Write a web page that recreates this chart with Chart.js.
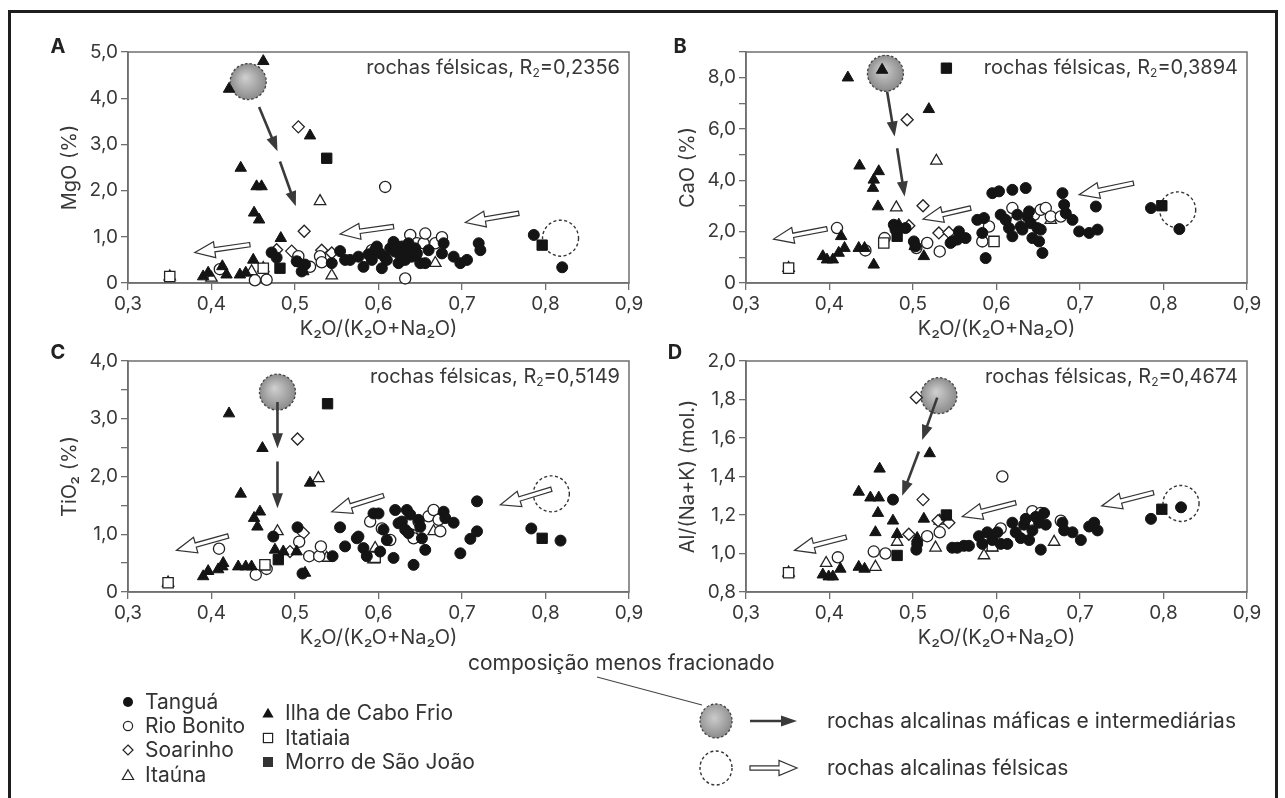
<!DOCTYPE html>
<html lang="pt">
<head>
<meta charset="utf-8">
<title>Diagramas K2O/(K2O+Na2O)</title>
<script src="https://cdn.jsdelivr.net/npm/chart.js@4"></script>
<style>
  body { margin: 0; background: #fff; }
  #fig { position: relative; width: 1285px; height: 798px; overflow: hidden; background: #fff;
         font-family: Inter, 'Liberation Sans', Arial, sans-serif; color: #333; }
  #fig canvas { position: absolute; }
  .frame { position: absolute; left: 8px; top: 10px; width: 1270px; height: 830px;
           border: 3px solid #1e1e1e; box-sizing: border-box; }
  .leg { position: absolute; font-size: 21px; line-height: 24px; white-space: nowrap; }
  #key { position: absolute; left: 0; top: 0; }
</style>
</head>
<body>
<div id="fig">
  <div class="frame"></div>
  <canvas id="panelA" width="620" height="311" style="left:30px;top:30px"></canvas>
  <canvas id="panelB" width="620" height="311" style="left:648px;top:30px"></canvas>
  <canvas id="panelC" width="620" height="311" style="left:30px;top:339px"></canvas>
  <canvas id="panelD" width="620" height="311" style="left:648px;top:339px"></canvas>
  <svg id="key" width="1285" height="798">
    <defs>
      <radialGradient id="grayBall" cx="45%" cy="42%" r="62%">
        <stop offset="0" stop-color="#cbcbcb"/>
        <stop offset="1" stop-color="#878787"/>
      </radialGradient>
    </defs>
    <line x1="597" y1="677" x2="702" y2="705" stroke="#444" stroke-width="1.2"/>
    <ellipse cx="716" cy="721" rx="16" ry="17" fill="url(#grayBall)" stroke="#444" stroke-width="1.3" stroke-dasharray="2.5 2"/>
    <line x1="750" y1="721" x2="784" y2="721" stroke="#3a3a3a" stroke-width="2.5"/>
    <polygon points="797,721 781,715.5 781,726.5" fill="#3a3a3a"/>
    <ellipse cx="716" cy="768" rx="16" ry="17" fill="none" stroke="#333" stroke-width="1.4" stroke-dasharray="3 2.5"/>
    <polygon points="750,765.8 779,765.8 779,760.5 797,768 779,775.5 779,770.2 750,770.2" fill="#fff" stroke="#333" stroke-width="1.2"/>
  </svg>
  <div id="legend"></div>
</div>

<script>
// eixos
const xTicks = [0.3, 0.4, 0.5, 0.6, 0.7, 0.8, 0.9];
const xTickLabels = ['0,3', '0,4', '0,5', '0,6', '0,7', '0,8', '0,9'];
const mgoTicks = [0, 1, 2, 3, 4, 5];
const mgoTickLabels = ['0', '1,0', '2,0', '3,0', '4,0', '5,0'];
const caoTicks = [0, 1, 2, 3, 4, 5, 6, 7, 8, 9];
const caoTickLabels = ['0', '', '2,0', '', '4,0', '', '6,0', '', '8,0', ''];
const tio2Ticks = [0, 0.5, 1, 1.5, 2, 2.5, 3, 3.5, 4];
const tio2TickLabels = ['0', '', '1,0', '', '2,0', '', '3,0', '', '4,0'];
const alnkTicks = [0.8, 1.0, 1.2, 1.4, 1.6, 1.8, 2.0];
const alnkTickLabels = ['0,8', '1,0', '1,2', '1,4', '1,6', '1,8', '2,0'];

const seriesNames = ['Tanguá', 'Rio Bonito', 'Soarinho', 'Itaúna', 'Ilha de Cabo Frio', 'Itatiaia', 'Morro de São João'];
const r2Values = ['0,2356', '0,3894', '0,5149', '0,4674'];

// A - MgO (%)
const mgoTangua = [[0.472,0.66],[0.478,0.55],[0.502,0.47],[0.508,0.25],[0.512,0.40],[0.544,0.43],[0.554,0.69],[0.560,0.50],[0.566,0.50],[0.576,0.57],[0.582,0.35],[0.588,0.62],[0.592,0.50],[0.596,0.72],[0.598,0.79],[0.602,0.64],[0.604,0.32],[0.608,0.55],[0.610,0.50],[0.614,0.75],[0.618,0.89],[0.620,0.68],[0.624,0.43],[0.626,0.60],[0.628,0.79],[0.632,0.50],[0.634,0.71],[0.636,0.86],[0.640,0.57],[0.644,0.75],[0.646,0.64],[0.650,0.43],[0.656,0.43],[0.660,0.71],[0.676,0.64],[0.678,0.86],[0.690,0.57],[0.698,0.43],[0.706,0.50],[0.720,0.86],[0.722,0.71],[0.786,1.04],[0.820,0.34]];
const mgoRioBonito = [[0.410,0.30],[0.452,0.06],[0.466,0.07],[0.504,0.58],[0.518,0.35],[0.530,0.58],[0.532,0.45],[0.592,0.71],[0.608,2.08],[0.622,0.79],[0.632,0.10],[0.638,1.04],[0.646,0.86],[0.654,0.86],[0.656,1.07],[0.668,0.86],[0.676,0.99]];
const mgoSoarinho = [[0.478,0.72],[0.496,0.69],[0.504,3.38],[0.511,1.12],[0.532,0.71],[0.544,0.65]];
const mgoItauna = [[0.350,0.14],[0.400,0.11],[0.448,0.25],[0.462,0.32],[0.530,1.77],[0.544,0.16],[0.668,0.43]];
const mgoIlha = [[0.390,0.14],[0.396,0.22],[0.413,0.36],[0.418,0.18],[0.421,4.20],[0.434,0.18],[0.435,2.49],[0.441,0.22],[0.450,0.50],[0.451,1.52],[0.454,2.09],[0.457,1.37],[0.460,2.09],[0.462,4.80],[0.483,0.97],[0.506,0.43],[0.510,0.25],[0.518,3.19]];
const mgoItatiaia = [[0.350,0.14],[0.462,0.32]];
const mgoMorro = [[0.482,0.32],[0.538,2.70],[0.796,0.82]];

// B - CaO (%)
const caoTangua = [[0.477,2.27],[0.479,2.08],[0.491,2.14],[0.501,1.62],[0.503,1.43],[0.545,1.56],[0.547,1.62],[0.553,1.69],[0.555,2.01],[0.563,1.75],[0.577,2.46],[0.583,1.95],[0.585,2.53],[0.587,0.97],[0.595,3.50],[0.603,3.57],[0.605,2.66],[0.611,2.46],[0.615,2.14],[0.619,1.82],[0.619,3.63],[0.625,2.66],[0.629,2.20],[0.631,2.08],[0.635,3.70],[0.637,2.59],[0.639,2.79],[0.641,2.33],[0.643,1.75],[0.649,2.14],[0.651,1.62],[0.653,2.08],[0.655,1.17],[0.679,3.50],[0.681,3.05],[0.683,2.72],[0.691,2.46],[0.699,2.01],[0.711,1.95],[0.719,2.98],[0.721,2.08],[0.785,2.92],[0.819,2.10]];
const caoRioBonito = [[0.409,2.14],[0.443,1.27],[0.466,1.75],[0.504,1.36],[0.517,1.56],[0.532,1.23],[0.583,1.62],[0.591,2.20],[0.619,2.92],[0.623,2.40],[0.645,2.66],[0.653,2.85],[0.659,2.92],[0.665,2.59],[0.677,2.59]];
const caoSoarinho = [[0.493,6.36],[0.495,2.23],[0.512,3.01],[0.531,1.95],[0.543,1.97]];
const caoItauna = [[0.351,0.58],[0.480,2.94],[0.528,4.76],[0.665,2.45]];
const caoIlha = [[0.392,1.04],[0.397,0.91],[0.404,0.91],[0.411,1.17],[0.414,1.82],[0.418,1.36],[0.422,8.00],[0.435,1.36],[0.436,4.57],[0.442,1.36],[0.452,3.70],[0.453,0.71],[0.453,4.02],[0.458,2.98],[0.459,4.35],[0.463,8.30],[0.483,2.27],[0.502,1.43],[0.513,1.04],[0.519,6.77]];
const caoItatiaia = [[0.351,0.58],[0.465,1.56],[0.597,1.62]];
const caoMorro = [[0.481,1.82],[0.540,8.37],[0.798,3.01]];

// C - TiO2 (%)
const tio2Tangua = [[0.474,0.96],[0.503,1.12],[0.509,0.32],[0.545,0.62],[0.554,1.12],[0.560,0.79],[0.574,0.93],[0.576,0.96],[0.582,0.76],[0.586,0.62],[0.594,1.36],[0.600,1.36],[0.602,0.70],[0.606,1.08],[0.610,0.90],[0.618,0.59],[0.620,1.42],[0.624,1.19],[0.628,1.22],[0.632,1.08],[0.634,1.42],[0.636,1.02],[0.638,1.34],[0.642,0.47],[0.648,1.25],[0.650,1.13],[0.652,0.93],[0.656,0.73],[0.678,1.39],[0.680,1.28],[0.690,1.20],[0.698,0.67],[0.710,0.92],[0.718,1.05],[0.718,1.57],[0.783,1.10],[0.818,0.89]];
const tio2RioBonito = [[0.409,0.75],[0.453,0.30],[0.466,0.40],[0.505,0.87],[0.517,0.62],[0.529,0.62],[0.531,0.79],[0.590,1.22],[0.604,1.10],[0.614,0.90],[0.640,0.99],[0.642,0.93],[0.648,1.22],[0.660,1.31],[0.666,1.42],[0.672,1.25],[0.674,1.05]];
const tio2Soarinho = [[0.494,0.70],[0.503,2.65],[0.510,1.02]];
const tio2Itauna = [[0.348,0.16],[0.479,1.05],[0.528,1.97],[0.538,0.59],[0.594,0.56],[0.596,0.76],[0.666,1.05]];
const tio2Ilha = [[0.390,0.27],[0.396,0.36],[0.408,0.39],[0.413,0.44],[0.414,0.50],[0.421,3.09],[0.432,0.44],[0.435,1.70],[0.441,0.44],[0.448,0.44],[0.451,1.28],[0.455,1.13],[0.458,1.39],[0.461,2.49],[0.476,0.73],[0.486,0.70],[0.502,0.70],[0.512,0.33],[0.518,1.89]];
const tio2Itatiaia = [[0.348,0.16],[0.464,0.47],[0.596,0.60]];
const tio2Morro = [[0.480,0.56],[0.539,3.26],[0.796,0.93]];

// D - Al/(Na+K) (mol.)
const alnkTangua = [[0.476,1.28],[0.504,1.02],[0.505,1.05],[0.547,1.03],[0.553,1.03],[0.561,1.04],[0.567,1.04],[0.579,1.09],[0.583,1.05],[0.589,1.11],[0.595,1.07],[0.601,1.11],[0.605,1.05],[0.613,1.05],[0.619,1.16],[0.623,1.11],[0.629,1.08],[0.633,1.15],[0.635,1.18],[0.639,1.07],[0.643,1.12],[0.647,1.19],[0.651,1.16],[0.653,1.02],[0.657,1.21],[0.659,1.15],[0.679,1.16],[0.681,1.12],[0.691,1.11],[0.701,1.07],[0.711,1.14],[0.717,1.16],[0.721,1.12],[0.785,1.18],[0.821,1.24]];
const alnkRioBonito = [[0.410,0.98],[0.453,1.01],[0.467,1.00],[0.517,1.09],[0.532,1.11],[0.587,1.09],[0.605,1.13],[0.607,1.40],[0.643,1.22],[0.653,1.21],[0.677,1.17]];
const alnkSoarinho = [[0.495,1.10],[0.504,1.81],[0.512,1.28],[0.530,1.17],[0.543,1.16]];
const alnkItauna = [[0.351,0.90],[0.396,0.95],[0.455,0.93],[0.481,1.06],[0.527,1.03],[0.532,1.17],[0.585,0.99],[0.595,1.03],[0.669,1.06]];
const alnkIlha = [[0.392,0.89],[0.399,0.88],[0.404,0.88],[0.413,0.92],[0.435,0.93],[0.435,1.32],[0.442,0.92],[0.449,1.29],[0.455,1.11],[0.458,1.21],[0.459,1.29],[0.460,1.44],[0.476,1.17],[0.481,1.10],[0.505,1.08],[0.513,1.18],[0.520,1.52]];
const alnkItatiaia = [[0.351,0.90],[0.595,1.04]];
const alnkMorro = [[0.481,0.99],[0.540,1.20],[0.798,1.23]];

// composicao menos fracionada e tendencias (unidades dos eixos)
const mgoMafic = [0.444, 4.36], mgoFelsic = [0.818, 0.97];
const mgoMaficArrows = [[[0.457,3.81],[0.479,2.85]], [[0.482,2.63],[0.501,1.66]]];
const mgoFelsicArrows = [[[0.446,0.83],[0.380,0.66]], [[0.618,1.22],[0.554,1.06]], [[0.768,1.51],[0.704,1.31]]];
const caoMafic = [0.467, 8.17], caoFelsic = [0.817, 2.85];
const caoMaficArrows = [[[0.469,7.46],[0.478,5.71]], [[0.481,5.25],[0.490,3.37]]];
const caoFelsicArrows = [[[0.397,2.11],[0.333,1.71]], [[0.569,2.92],[0.512,2.49]], [[0.764,3.89],[0.699,3.44]]];
const tio2Mafic = [0.479, 3.46], tio2Felsic = [0.807, 1.70];
const tio2MaficArrows = [[[0.479,3.29],[0.479,2.49]], [[0.479,2.26],[0.479,1.45]]];
const tio2FelsicArrows = [[[0.420,0.97],[0.358,0.72]], [[0.606,1.67],[0.544,1.39]], [[0.807,1.78],[0.746,1.51]]];
const alnkMafic = [0.531, 1.82], alnkFelsic = [0.821, 1.26];
const alnkMaficArrows = [[[0.529,1.81],[0.511,1.59]], [[0.507,1.53],[0.487,1.30]]];
const alnkFelsicArrows = [[[0.420,1.085],[0.358,1.016]], [[0.623,1.264],[0.559,1.192]], [[0.788,1.316],[0.726,1.247]]];

const axisColor = '#6f6f6f';
const textColor = '#383838';
const fontFamily = "Inter, 'Liberation Sans', Arial, sans-serif";
Chart.defaults.font.family = fontFamily;

// marcadores: indice em seriesNames -> estilo
const markerStyles = [
  { pointStyle: 'circle', radius: 5.5, fill: '#141414', stroke: '#141414' },
  { pointStyle: 'circle', radius: 5.6, fill: '#ffffff', stroke: '#222' },
  { pointStyle: 'rectRot', radius: 6, fill: '#ffffff', stroke: '#222' },
  { pointStyle: 'triangle', radius: 6.6, fill: '#ffffff', stroke: '#222' },
  { pointStyle: 'triangle', radius: 6.6, fill: '#141414', stroke: '#141414' },
  { pointStyle: 'rect', radius: 7.3, fill: '#ffffff', stroke: '#222' },
  { pointStyle: 'rect', radius: 7.3, fill: '#141414', stroke: '#141414' }
];
// ordem de desenho (abertos por cima)
const drawOrder = [0, 4, 6, 5, 1, 2, 3];

function toPx(chart, p) {
  return [chart.scales.x.getPixelForValue(p[0]), chart.scales.y.getPixelForValue(p[1])];
}

function darkArrow(ctx, s, e) {
  const dx = e[0] - s[0], dy = e[1] - s[1];
  const len = Math.hypot(dx, dy), ux = dx / len, uy = dy / len;
  const bx = e[0] - ux * 15, by = e[1] - uy * 15;
  ctx.strokeStyle = '#3a3a3a';
  ctx.fillStyle = '#3a3a3a';
  ctx.lineWidth = 2.6;
  ctx.beginPath();
  ctx.moveTo(s[0], s[1]);
  ctx.lineTo(bx + ux * 2, by + uy * 2);
  ctx.stroke();
  ctx.beginPath();
  ctx.moveTo(e[0], e[1]);
  ctx.lineTo(bx - uy * 5.5, by + ux * 5.5);
  ctx.lineTo(bx + uy * 5.5, by - ux * 5.5);
  ctx.closePath();
  ctx.fill();
}

function hollowArrow(ctx, s, e) {
  const dx = e[0] - s[0], dy = e[1] - s[1];
  const len = Math.hypot(dx, dy), ux = dx / len, uy = dy / len;
  const nx = -uy, ny = ux;
  const bx = e[0] - ux * 20, by = e[1] - uy * 20;
  const sh = 2.2, hh = 8;
  ctx.beginPath();
  ctx.moveTo(s[0] + nx * sh, s[1] + ny * sh);
  ctx.lineTo(bx + nx * sh, by + ny * sh);
  ctx.lineTo(bx + nx * hh, by + ny * hh);
  ctx.lineTo(e[0], e[1]);
  ctx.lineTo(bx - nx * hh, by - ny * hh);
  ctx.lineTo(bx - nx * sh, by - ny * sh);
  ctx.lineTo(s[0] - nx * sh, s[1] - ny * sh);
  ctx.closePath();
  ctx.fillStyle = '#fff';
  ctx.fill();
  ctx.strokeStyle = '#333';
  ctx.lineWidth = 1.2;
  ctx.stroke();
}

function panelDecor(p) {
  return {
    id: 'decor',
    beforeDatasetsDraw(chart) {
      const { ctx, chartArea: a } = chart;
      ctx.save();
      ctx.strokeStyle = axisColor;
      ctx.lineWidth = 1.5;
      ctx.strokeRect(a.left, a.top, a.right - a.left, a.bottom - a.top);

      // composicao menos fracionada (rochas maficas)
      const [mx, my] = toPx(chart, p.mafic);
      const g = ctx.createRadialGradient(mx - 3, my - 4, 1, mx, my, 19);
      g.addColorStop(0, '#cdcdcd');
      g.addColorStop(1, '#888');
      ctx.beginPath();
      ctx.arc(mx, my, 18, 0, Math.PI * 2);
      ctx.fillStyle = g;
      ctx.fill();
      ctx.setLineDash([2.5, 2]);
      ctx.strokeStyle = '#444';
      ctx.lineWidth = 1.3;
      ctx.stroke();

      // rochas felsicas
      const [fx, fy] = toPx(chart, p.felsic);
      ctx.beginPath();
      ctx.arc(fx, fy, 18, 0, Math.PI * 2);
      ctx.setLineDash([3, 2.5]);
      ctx.strokeStyle = '#333';
      ctx.lineWidth = 1.4;
      ctx.stroke();
      ctx.setLineDash([]);
      ctx.restore();
    },
    afterDatasetsDraw(chart) {
      const ctx = chart.ctx;
      ctx.save();
      p.maficArrows.forEach(ar => darkArrow(ctx, toPx(chart, ar[0]), toPx(chart, ar[1])));
      p.felsicArrows.forEach(ar => hollowArrow(ctx, toPx(chart, ar[0]), toPx(chart, ar[1])));
      ctx.restore();
    },
    afterDraw(chart) {
      const { ctx, chartArea: a } = chart;
      ctx.save();
      ctx.fillStyle = '#222';
      ctx.font = 'bold 20px ' + fontFamily;
      ctx.textAlign = 'center';
      ctx.textBaseline = 'middle';
      ctx.fillText(p.letter, a.left - p.letterDx, a.top - p.letterDy);

      // "rochas felsicas, R2=..."
      const yMid = a.top + 16;
      const head = 'rochas félsicas, R', sub = '2', tail = '=' + p.r2;
      ctx.fillStyle = textColor;
      ctx.textBaseline = 'middle';
      ctx.textAlign = 'left';
      ctx.font = '20px ' + fontFamily;
      const wHead = ctx.measureText(head).width, wTail = ctx.measureText(tail).width;
      ctx.font = '12px ' + fontFamily;
      const wSub = ctx.measureText(sub).width;
      let x = a.right - 9 - wHead - wSub - wTail;
      ctx.font = '20px ' + fontFamily;
      ctx.fillText(head, x, yMid);
      x += wHead;
      ctx.font = '12px ' + fontFamily;
      ctx.fillText(sub, x, yMid + 5);
      x += wSub;
      ctx.font = '20px ' + fontFamily;
      ctx.fillText(tail, x, yMid);
      ctx.restore();
    }
  };
}

function makePanel(id, p) {
  const datasets = drawOrder.map(i => {
    const st = markerStyles[i];
    return {
      label: seriesNames[i],
      data: p.series[i].map(v => ({ x: v[0], y: v[1] })),
      pointStyle: st.pointStyle,
      pointRadius: st.radius,
      pointBackgroundColor: st.fill,
      pointBorderColor: st.stroke,
      pointBorderWidth: st.fill === '#ffffff' ? 1.3 : 1,
      clip: false
    };
  });
  const tickFont = { size: 19, family: fontFamily };
  const titleFont = { size: 20, family: fontFamily };
  return new Chart(document.getElementById(id), {
    type: 'scatter',
    data: { datasets },
    options: {
      responsive: false,
      animation: false,
      events: [],
      layout: { padding: { left: 0, right: 21, top: 22, bottom: 0 } },
      plugins: { legend: { display: false }, tooltip: { enabled: false } },
      scales: {
        x: {
          type: 'linear',
          min: 0.3, max: 0.9,
          afterBuildTicks: s => { s.ticks = xTicks.map(v => ({ value: v })); },
          afterFit: s => { s.height = 58; },
          ticks: { autoSkip: false, maxRotation: 0, padding: 3, color: textColor, font: tickFont,
                   callback: (v, i) => xTickLabels[i] },
          grid: { drawOnChartArea: false, tickLength: 7, color: axisColor, lineWidth: 1.3 },
          border: { color: axisColor, width: 1.5 },
          title: { display: true, text: 'K₂O/(K₂O+Na₂O)', color: textColor,
                   font: titleFont, padding: { top: 0, bottom: 0 } }
        },
        y: {
          type: 'linear',
          min: p.yMin, max: p.yMax,
          afterBuildTicks: s => { s.ticks = p.yTicks.map(v => ({ value: v })); },
          afterFit: s => { s.width = 98; },
          ticks: { autoSkip: false, padding: 3, color: textColor, font: tickFont,
                   callback: (v, i) => p.yTickLabels[i] },
          grid: { drawOnChartArea: false, tickLength: 7, color: axisColor, lineWidth: 1.3 },
          border: { color: axisColor, width: 1.5 },
          title: { display: true, text: p.yTitle, color: textColor,
                   font: titleFont, padding: { top: 28, bottom: 0 } }
        }
      }
    },
    plugins: [panelDecor(p)]
  });
}

// series na ordem de seriesNames
makePanel('panelA', {
  letter: 'A', letterDx: 70, letterDy: 5, r2: r2Values[0],
  yMin: 0, yMax: 5, yTicks: mgoTicks, yTickLabels: mgoTickLabels, yTitle: 'MgO (%)',
  series: [mgoTangua, mgoRioBonito, mgoSoarinho, mgoItauna, mgoIlha, mgoItatiaia, mgoMorro],
  mafic: mgoMafic, felsic: mgoFelsic, maficArrows: mgoMaficArrows, felsicArrows: mgoFelsicArrows
});
makePanel('panelB', {
  letter: 'B', letterDx: 66, letterDy: 5, r2: r2Values[1],
  yMin: 0, yMax: 9, yTicks: caoTicks, yTickLabels: caoTickLabels, yTitle: 'CaO (%)',
  series: [caoTangua, caoRioBonito, caoSoarinho, caoItauna, caoIlha, caoItatiaia, caoMorro],
  mafic: caoMafic, felsic: caoFelsic, maficArrows: caoMaficArrows, felsicArrows: caoFelsicArrows
});
makePanel('panelC', {
  letter: 'C', letterDx: 70, letterDy: 8, r2: r2Values[2],
  yMin: 0, yMax: 4, yTicks: tio2Ticks, yTickLabels: tio2TickLabels, yTitle: 'TiO₂ (%)',
  series: [tio2Tangua, tio2RioBonito, tio2Soarinho, tio2Itauna, tio2Ilha, tio2Itatiaia, tio2Morro],
  mafic: tio2Mafic, felsic: tio2Felsic, maficArrows: tio2MaficArrows, felsicArrows: tio2FelsicArrows
});
makePanel('panelD', {
  letter: 'D', letterDx: 71, letterDy: 8, r2: r2Values[3],
  yMin: 0.8, yMax: 2.0, yTicks: alnkTicks, yTickLabels: alnkTickLabels, yTitle: 'Al/(Na+K) (mol.)',
  series: [alnkTangua, alnkRioBonito, alnkSoarinho, alnkItauna, alnkIlha, alnkItatiaia, alnkMorro],
  mafic: alnkMafic, felsic: alnkFelsic, maficArrows: alnkMaficArrows, felsicArrows: alnkFelsicArrows
});

// legenda
const legendSlots = [
  [128, 702], [128, 726], [128, 750], [128, 775],
  [268, 713], [268, 738], [268, 762]
];
const markerSvg = [
  '<circle cx="7" cy="7" r="5" fill="#141414"/>',
  '<circle cx="7" cy="7" r="4.6" fill="#fff" stroke="#222" stroke-width="1.2"/>',
  '<polygon points="7,2 12,7 7,12 2,7" fill="#fff" stroke="#222" stroke-width="1.2"/>',
  '<polygon points="7,1.8 12.6,11.5 1.4,11.5" fill="#fff" stroke="#222" stroke-width="1.2"/>',
  '<polygon points="7,1.8 12.6,11.5 1.4,11.5" fill="#141414"/>',
  '<rect x="2.4" y="2.4" width="9.2" height="9.2" fill="#fff" stroke="#222" stroke-width="1.2"/>',
  '<rect x="2" y="2" width="10" height="10" fill="#333"/>'
];
const legendBox = document.getElementById('legend');
seriesNames.forEach((name, i) => {
  const [cx, cy] = legendSlots[i];
  const item = document.createElement('div');
  item.className = 'leg';
  item.style.left = (cx - 7) + 'px';
  item.style.top = (cy - 12) + 'px';
  item.innerHTML = `<svg width="14" height="14" style="position:absolute;left:0;top:5px">${markerSvg[i]}</svg>` +
                   `<span style="position:absolute;left:24px;top:0">${name}</span>`;
  legendBox.appendChild(item);
});

const keyTexts = [
  ['composição menos fracionado', 468, 663],
  ['rochas alcalinas máficas e intermediárias', 827, 721],
  ['rochas alcalinas félsicas', 827, 768]
];
keyTexts.forEach(([t, x, y]) => {
  const d = document.createElement('div');
  d.className = 'leg';
  d.style.left = x + 'px';
  d.style.top = (y - 12) + 'px';
  d.textContent = t;
  legendBox.appendChild(d);
});
</script>
</body>
</html>
